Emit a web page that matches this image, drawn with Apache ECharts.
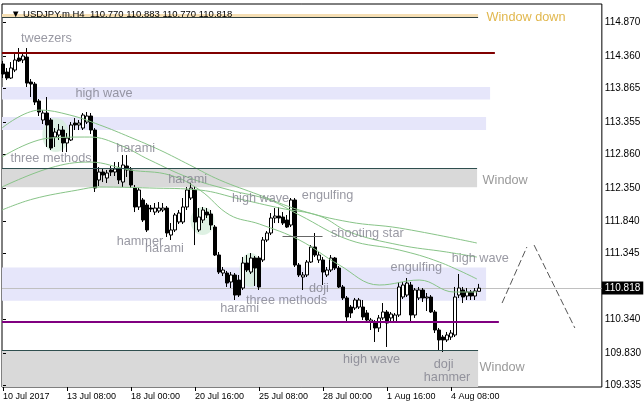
<!DOCTYPE html>
<html>
<head>
<meta charset="utf-8">
<script src="https://cdn.jsdelivr.net/npm/echarts@6/dist/echarts.min.js"></script>
<style>
html,body{margin:0;padding:0;background:#fff}
#chart{width:644px;height:408px}
</style>
</head>
<body>
<div id="chart"></div>
<script>
// USDJPY H4 bars, 10 Jul 16:00 .. 7 Aug 12:00 2017
const symbolName = 'USDJPY.m.H4';
const opens = [
114.240,114.117,114.026,114.148,114.331,114.301,114.346,113.965,113.934,113.675,
113.385,113.492,113.385,113.125,113.155,113.232,113.034,113.080,113.339,113.309,
113.262,113.354,113.446,113.232,112.469,112.591,112.499,112.622,112.591,112.652,
112.438,112.683,112.622,112.347,112.057,112.164,112.087,112.041,111.980,111.996,
112.011,112.041,111.629,111.706,111.828,111.828,112.057,112.194,112.316,111.706,
111.858,111.980,111.950,111.751,111.324,111.049,111.049,110.912,111.019,110.942,
110.820,111.202,111.064,111.278,111.278,111.248,111.553,111.660,111.889,111.919,
111.904,111.858,111.782,112.164,111.171,110.988,111.019,111.217,111.446,111.248,
111.248,111.019,111.095,111.278,111.125,110.836,110.668,110.530,110.515,110.530,
110.530,110.439,110.301,110.301,110.210,110.363,110.454,110.363,110.301,110.408,
110.683,110.713,110.866,110.408,110.668,110.790,110.668,110.683,110.454,110.179,
110.072,110.027,110.072,110.103,110.713,110.790,110.698,110.760,110.698,110.770
];
const highs = [
114.286,114.179,114.270,114.392,114.484,114.423,114.484,114.011,113.965,113.705,
113.537,113.736,113.415,113.262,113.324,113.293,113.186,113.354,113.415,113.385,
113.492,113.507,113.492,113.262,112.667,112.652,112.622,112.682,112.743,112.743,
112.850,112.850,112.667,112.393,112.347,112.194,112.118,112.087,112.118,112.133,
112.118,112.072,111.812,111.965,112.011,112.194,112.362,112.423,112.377,112.041,
112.057,112.041,112.011,111.782,111.370,111.141,111.080,111.064,111.049,111.019,
111.294,111.324,111.354,111.309,111.309,111.599,111.690,111.965,112.041,112.057,
111.980,111.935,112.194,112.194,111.202,111.064,111.248,111.476,111.660,111.370,
111.294,111.141,111.324,111.294,111.156,110.866,110.698,110.561,110.668,110.668,
110.637,110.484,110.363,110.332,110.408,110.591,110.484,110.454,110.439,110.912,
110.912,110.973,110.912,110.820,110.836,110.820,110.744,110.713,110.484,110.210,
110.103,110.149,110.179,110.836,111.034,110.836,110.820,110.790,110.820,110.883
];
const lows = [
114.026,113.995,114.011,114.117,114.270,114.255,113.889,113.736,113.614,113.446,
113.324,112.973,112.927,112.973,113.080,112.896,112.896,113.064,113.232,113.232,
113.232,113.324,113.171,112.286,112.377,112.438,112.423,112.530,112.530,112.408,
112.362,112.515,112.347,111.980,112.011,111.828,111.675,111.980,111.935,111.965,
111.980,111.599,111.553,111.675,111.797,111.797,112.011,112.164,111.476,111.675,
111.812,111.889,111.706,111.309,111.034,111.003,110.836,110.820,110.637,110.683,
110.790,111.064,111.034,110.851,110.790,111.217,111.522,111.629,111.812,111.812,
111.782,111.736,111.751,111.141,110.988,110.790,110.988,111.202,111.294,111.202,
110.866,110.988,111.064,111.095,110.820,110.637,110.317,110.363,110.484,110.500,
110.332,110.286,110.179,109.996,110.149,110.332,109.920,110.301,110.286,110.378,
110.652,110.683,110.286,110.363,110.637,110.607,110.469,110.439,110.133,109.874,
109.843,109.996,110.027,110.072,110.668,110.591,110.637,110.637,110.637,110.770
];
const closes = [
114.087,114.026,114.179,114.301,114.286,114.362,113.949,113.934,113.659,113.507,
113.492,113.309,112.958,113.201,113.232,113.034,113.110,113.309,113.309,113.339,
113.461,113.446,113.232,112.347,112.591,112.545,112.576,112.591,112.637,112.469,
112.698,112.622,112.393,112.057,112.316,111.858,111.706,112.026,112.041,112.041,
112.041,111.660,111.706,111.935,111.965,112.057,112.316,112.347,111.828,111.904,
112.011,111.935,111.782,111.324,111.064,111.095,110.896,111.019,110.713,110.713,
111.202,111.095,111.278,111.125,110.836,111.553,111.660,111.889,111.919,111.889,
111.812,111.751,112.164,111.171,111.019,111.019,111.217,111.446,111.324,111.324,
111.064,111.095,111.278,111.125,110.836,110.668,110.378,110.439,110.637,110.637,
110.378,110.332,110.332,110.210,110.363,110.454,110.286,110.423,110.408,110.836,
110.866,110.896,110.408,110.790,110.790,110.668,110.683,110.454,110.179,110.027,
110.027,110.103,110.133,110.683,110.820,110.683,110.760,110.698,110.775,110.818
];

// time axis
const tickBars = [0, 16, 32, 48, 64, 80, 96, 112];
const tickLabels = ['10 Jul 2017', '13 Jul 08:00', '18 Jul 00:00', '20 Jul 16:00',
                    '25 Jul 08:00', '28 Jul 00:00', '1 Aug 16:00', '4 Aug 08:00'];
const priceTicks = [114.870, 114.360, 113.865, 113.355, 112.860, 112.350,
                    111.840, 111.345, 110.340, 109.830, 109.335];

// moving averages: [bar, price]
const maFast = [[-0.25,113.263],[9.2,113.537],[16.7,113.461],[24.2,113.309],[31.7,113.125],[39.2,112.927],[46.7,112.698],[54.2,112.469],[64.1,112.240],[74.1,112.011],[86.6,111.828],[99.1,111.736],[118.5,111.507]];
const maMid = [[-0.25,112.820],[11.7,113.110],[21.7,113.125],[29.2,113.003],[36.7,112.774],[46.7,112.499],[56.7,112.316],[66.6,112.164],[74.1,111.935],[86.6,111.553],[99.1,111.400],[109.1,111.217],[118.5,110.958]];
const maSlow = [[-0.25,112.362],[11.7,112.652],[21.7,112.743],[31.7,112.622],[41.7,112.545],[49.2,112.316],[56.7,111.935],[64.1,111.797],[74.1,111.553],[84.1,111.171],[94.1,110.866],[104.1,110.942],[112.8,110.759],[118.5,110.759]];
const maLong = [[-0.25,112.011],[7.5,112.179],[18.7,112.316],[24.2,112.362],[36.7,112.347],[49.2,112.316],[59.2,112.179],[69.2,112.041],[79.2,111.919],[86.6,111.675],[99.1,111.477],[110.9,111.370],[118.5,111.293]];

// chart objects
const resistanceHigh = 114.412;      // dark red level
const supportLow = 110.309;          // purple level
const windowDown = [114.957, 115.003];
const windowUpper = [112.357, 112.647];
const windowLower = [109.309, 109.863];
const highWaveZones = [[113.698, 113.890, 121.8], [113.232, 113.431, 120.8], [110.626, 111.133, 120.8]];
const starLevel = [69.9, 79.9, 111.614];
const projection = [[124.8, 110.591], [131.0, 111.446], [132.8, 111.476], [143.0, 110.210]];
const highlights = [[13.2, 113.156], [49.9, 111.843], [61.9, 111.095]];
const patternLabels = [
  ['tweezers', 4.4, 114.637], ['high wave', 18.0, 113.797], ['three methods', 1.75, 112.805],
  ['harami', 28.2, 112.957], ['harami', 41.2, 112.484], ['high wave', 57.15, 112.194],
  ['engulfing', 74.6, 112.240], ['hammer', 28.3, 111.538], ['harami', 35.4, 111.416],
  ['shooting star', 81.9, 111.645], ['engulfing', 96.8, 111.126], ['high wave', 112.1, 111.278],
  ['doji', 76.4, 110.820], ['three methods', 60.65, 110.637], ['harami', 54.2, 110.515],
  ['high wave', 84.9, 109.736], ['doji', 107.6, 109.645], ['hammer', 105.1, 109.447]
];
const windowLabels = [['Window', 119.8, 112.469], ['Window', 119.05, 109.614]];
const windowDownLabel = ['Window down', 120.8, 114.957];

const X_MIN = -0.25, X_MAX = 149.75;
const Y_MIN = 109.309, Y_MAX = 115.156;
const last = opens.length - 1;
const header = symbolName + '  ' + [opens[last], highs[last], lows[last], closes[last]].map(v => v.toFixed(3)).join(' ');

const FONT = 'Liberation Sans';
const labelGray = '#7f7f8c';

const candles = opens.map((o, i) => [i, o, closes[i], lows[i], highs[i]]);

const zoneArea = (x0, x1, lo, hi, color) => [
  { coord: [x0, hi], itemStyle: { color: color } },
  { coord: [x1, lo] }
];
const hLine = (x0, x1, y, color, width) => [
  { coord: [x0, y], lineStyle: { color: color, width: width, type: 'solid' } },
  { coord: [x1, y] }
];

const chart = echarts.init(document.getElementById('chart'));
chart.setOption({
  animation: false,
  backgroundColor: '#fff',
  title: {
    text: '\u25BC ' + header, left: 6, top: 4,
    textStyle: { fontFamily: FONT, fontSize: 9.5, fontWeight: 'normal', color: '#000' }
  },
  grid: { left: 2, right: 41, top: 4, bottom: 21, show: true, borderColor: '#000', borderWidth: 1, backgroundColor: '#fff' },
  xAxis: {
    type: 'value', min: X_MIN, max: X_MAX,
    axisLine: { show: false }, splitLine: { show: false },
    axisTick: { show: true, customValues: tickBars, length: 4, lineStyle: { color: '#000' } },
    axisLabel: {
      customValues: tickBars, formatter: v => tickLabels[tickBars.indexOf(v)],
      align: 'left', margin: 5, fontFamily: FONT, fontSize: 9, color: '#000'
    }
  },
  yAxis: {
    type: 'value', position: 'right', min: Y_MIN, max: Y_MAX,
    axisLine: { show: false }, splitLine: { show: false },
    axisTick: { show: true, customValues: priceTicks, length: 3, lineStyle: { color: '#000' } },
    axisLabel: {
      customValues: priceTicks, formatter: v => v.toFixed(3),
      margin: 3, fontFamily: FONT, fontSize: 10, color: '#000'
    }
  },
  series: [
    {
      // background zones and the bid line
      type: 'line', data: [], silent: true,
      markArea: {
        silent: true, z: 0,
        data: [
          zoneArea(X_MIN, 118.8, windowDown[0], windowDown[1], '#f5deb3'),
          zoneArea(X_MIN, highWaveZones[0][2], highWaveZones[0][0], highWaveZones[0][1], '#e6e6fa'),
          zoneArea(X_MIN, highWaveZones[1][2], highWaveZones[1][0], highWaveZones[1][1], '#e6e6fa'),
          zoneArea(X_MIN, 118.55, windowUpper[0], windowUpper[1], '#d9d9d9'),
          zoneArea(X_MIN, highWaveZones[2][2], highWaveZones[2][0], highWaveZones[2][1], '#e6e6fa'),
          zoneArea(X_MIN, 118.8, windowLower[0], windowLower[1], '#d9d9d9')
        ]
      },
      markLine: {
        silent: true, z: 1, symbol: ['none', 'none'],
        data: [{
          yAxis: closes[last],
          lineStyle: { color: '#c0c0c0', width: 1, type: 'solid' },
          label: {
            show: true, position: 'end', distance: 0, formatter: closes[last].toFixed(3),
            color: '#fff', backgroundColor: '#000', padding: [2, 3, 1, 3],
            fontFamily: FONT, fontSize: 10
          }
        }]
      }
    },
    {
      type: 'scatter', silent: true, z: 1,
      symbol: 'circle', symbolSize: (v, p) => [[27, 34], [24, 28], [22, 34]][p.dataIndex],
      itemStyle: { color: '#d6eedc' },
      data: highlights
    },
    {
      type: 'candlestick', z: 3, barWidth: 3, silent: true,
      itemStyle: { color: '#ffffff', color0: '#000000', borderColor: '#000000', borderColor0: '#000000', borderWidth: 1 },
      data: candles
    },
    ...[maFast, maMid, maSlow, maLong].map(d => ({
      type: 'line', z: 4, silent: true, smooth: 0.4, showSymbol: false, symbol: 'none',
      lineStyle: { color: '#88c488', width: 1 }, data: d
    })),
    {
      // drawn objects
      type: 'line', data: [], silent: true,
      markLine: {
        silent: true, z: 5, symbol: ['none', 'none'], label: { show: false },
        data: [
          hLine(X_MIN, 118.8, windowDown[0], '#2f3f3f', 1),
          hLine(X_MIN, 123.0, resistanceHigh, '#800000', 2),
          hLine(X_MIN, 118.55, windowUpper[1], '#2f4f4f', 1),
          hLine(X_MIN, 124.0, supportLow, '#800080', 2),
          hLine(X_MIN, 118.8, windowLower[1], '#2f4f4f', 1),
          hLine(starLevel[0], starLevel[1], starLevel[2], '#666666', 1),
          [{ coord: projection[0], lineStyle: { color: '#555', width: 1, type: [7, 3] } }, { coord: projection[1] }],
          [{ coord: projection[2], lineStyle: { color: '#555', width: 1, type: [7, 3] } }, { coord: projection[3] }]
        ]
      }
    },
    {
      type: 'scatter', silent: true, z: 6, symbolSize: 1,
      itemStyle: { color: 'rgba(0,0,0,0)' },
      label: { show: true, position: 'right', distance: 0, formatter: '{b}', color: labelGray, fontFamily: FONT, fontSize: 12.7 },
      data: patternLabels.map(([t, b, p]) => ({ name: t, value: [b, p] }))
        .concat(windowLabels.map(([t, b, p]) => ({ name: t, value: [b, p], label: { color: '#808080' } })))
        .concat([{ name: windowDownLabel[0], value: [windowDownLabel[1], windowDownLabel[2]], label: { color: '#daa520' } }])
    }
  ]
});
</script>
</body>
</html>
